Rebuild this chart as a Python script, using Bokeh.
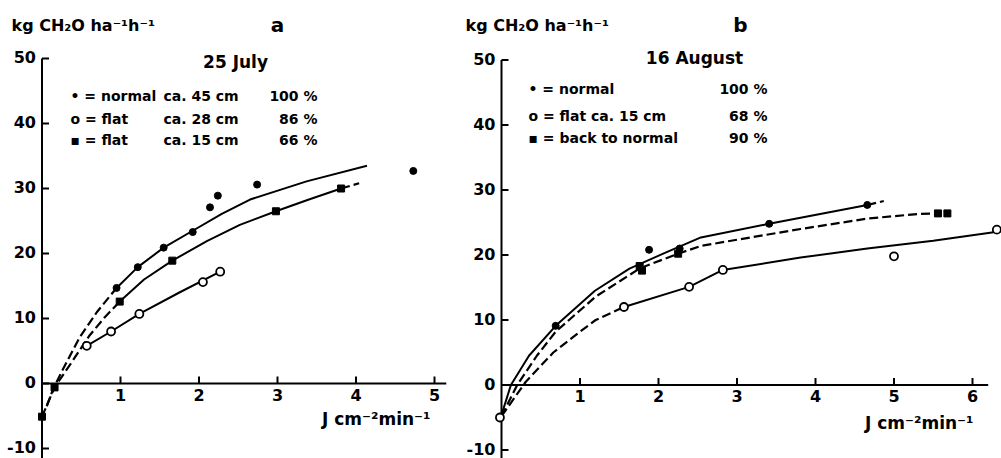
from bokeh.plotting import figure
from bokeh.layouts import row
from bokeh.models import Range1d, Label
from bokeh.core.properties import value
from bokeh.embed import file_html
from bokeh.resources import INLINE

# ---------------- panel a : 25 July ----------------
a_normal_x = [0.95, 1.22, 1.55, 1.92, 2.14, 2.24, 2.74, 4.73]
a_normal_y = [14.7, 17.9, 20.9, 23.3, 27.1, 28.9, 30.6, 32.7]
a_flat28_x = [0.57, 0.88, 1.24, 2.05, 2.27]
a_flat28_y = [5.8, 8.0, 10.7, 15.6, 17.2]
a_flat15_x = [0.0, 0.16, 0.99, 1.66, 2.98, 3.81]
a_flat15_y = [-5.1, -0.6, 12.6, 18.9, 26.5, 30.0]

# fitted curves
a_normal_dash_x = [0.06, 0.14, 0.25, 0.48, 0.70, 0.95]
a_normal_dash_y = [-3.5, -0.9, 1.8, 7.1, 11.0, 14.7]
a_normal_fit_x = [0.95, 1.22, 1.55, 1.92, 2.29, 2.65, 3.37, 4.14]
a_normal_fit_y = [14.7, 17.9, 20.9, 23.5, 26.1, 28.3, 31.1, 33.5]
a_flat15_dash_x = [0.0, 0.16, 0.38, 0.60, 0.80, 0.99]
a_flat15_dash_y = [-5.1, -0.6, 3.3, 7.3, 10.2, 12.6]
a_flat15_fit_x = [0.99, 1.30, 1.66, 2.10, 2.52, 2.98, 3.40, 3.81]
a_flat15_fit_y = [12.6, 16.0, 18.9, 21.9, 24.4, 26.5, 28.3, 30.0]
a_flat15_end_x = [3.81, 4.04]
a_flat15_end_y = [30.0, 30.8]
a_flat28_fit_x = [0.57, 0.88, 1.24, 1.75, 2.27]
a_flat28_fit_y = [5.8, 8.0, 10.7, 14.0, 17.2]

# ---------------- panel b : 16 August ----------------
b_normal_x = [0.69, 1.88, 2.27, 3.41, 4.66]
b_normal_y = [9.1, 20.8, 21.0, 24.8, 27.7]
b_back_x = [1.76, 1.79, 2.25, 5.56, 5.68]
b_back_y = [18.3, 17.6, 20.2, 26.4, 26.4]
b_flat_x = [-0.02, 1.56, 2.39, 2.82, 5.0, 6.31]
b_flat_y = [-5.0, 12.0, 15.1, 17.7, 19.8, 23.9]

b_normal_fit_x = [0.0, 0.12, 0.35, 0.69, 1.19, 1.63, 2.06, 2.54, 3.41, 4.66]
b_normal_fit_y = [-4.6, 0.0, 4.5, 9.1, 14.5, 17.9, 20.2, 22.7, 24.8, 27.7]
b_normal_end_x = [4.66, 4.87]
b_normal_end_y = [27.7, 28.3]
b_back_fit_x = [0.0, 0.20, 0.45, 0.69, 1.20, 1.77, 2.25, 2.54, 3.81, 4.66, 5.30, 5.56]
b_back_fit_y = [-4.8, 0.0, 4.5, 8.2, 13.6, 18.0, 20.2, 21.4, 24.0, 25.6, 26.3, 26.4]
b_flat_dash_x = [0.0, 0.31, 0.66, 1.00, 1.20, 1.56]
b_flat_dash_y = [-4.8, 0.5, 5.0, 8.2, 10.0, 12.0]
b_flat_fit_x = [1.56, 2.39, 2.82, 3.81, 4.66, 5.50, 6.27]
b_flat_fit_y = [12.0, 15.1, 17.7, 19.6, 21.0, 22.2, 23.5]

# ---------------- axes / texts ----------------
y_ticks = [-10, 0, 10, 20, 30, 40, 50]
y_tick_labels = ["-10", "0", "10", "20", "30", "40", "50"]
a_x_ticks = [1, 2, 3, 4, 5]
b_x_ticks = [1, 2, 3, 4, 5, 6]
y_title = "kg CH\u2082O ha\u207b\u00b9h\u207b\u00b9"
x_title = "J cm\u207b\u00b2min\u207b\u00b9"

a_legend_sym = ["\u2022 = normal", "o = flat", "\u25aa = flat"]
a_legend_depth = ["ca. 45 cm", "ca. 28 cm", "ca. 15 cm"]
a_legend_pct = ["100 %", "86 %", "66 %"]
b_legend_sym = ["\u2022 = normal", "o = flat ca. 15 cm", "\u25aa = back to normal"]
b_legend_pct = ["100 %", "68 %", "90 %"]

FONT = "DejaVu Sans"
H = 458
PXX = 78.5  # px per x unit


class Panel:
    def __init__(self, width, zero_px, y0px, pxy, axis_end):
        self.zero_px, self.y0px, self.pxy = zero_px, y0px, pxy
        x_start = -zero_px / PXX
        y_start = -(H - y0px) / pxy
        p = figure(width=width, height=H, output_backend="svg", toolbar_location=None,
                   x_range=Range1d(x_start, x_start + width / PXX),
                   y_range=Range1d(y_start, y0px / pxy),
                   min_border=0, x_axis_location=None, y_axis_location=None)
        p.grid.visible = False
        p.outline_line_color = None
        p.background_fill_color = "white"
        p.border_fill_color = "white"
        self.p = p
        dx = 1 / PXX
        dy = 1 / pxy
        # y axis at x = 0
        p.segment(x0=[0], y0=[y_start], x1=[0], y1=[max(y_ticks)], line_color="black", line_width=2)
        n = len(y_ticks)
        p.segment(x0=[0] * n, y0=y_ticks, x1=[7 * dx] * n, y1=y_ticks,
                  line_color="black", line_width=2)
        p.text(x=[-6 * dx] * n, y=[t + 1.5 * dy for t in y_ticks], text=y_tick_labels,
               text_align="right", text_baseline="middle",
               text_font=value(FONT), text_font_style="bold", text_font_size="16px",
               text_color="black")
        # x axis at y = 0
        p.segment(x0=[0], y0=[0], x1=[axis_end], y1=[0], line_color="black", line_width=2)

    def x_axis(self, ticks):
        p = self.p
        dy = 1 / self.pxy
        n = len(ticks)
        p.segment(x0=ticks, y0=[0] * n, x1=ticks, y1=[7 * dy] * n,
                  line_color="black", line_width=2)
        p.text(x=ticks, y=[-5 * dy] * n, text=[str(t) for t in ticks],
               text_align="center", text_baseline="top",
               text_font=value(FONT), text_font_style="bold", text_font_size="16px",
               text_color="black")

    def px2x(self, px):
        return (px - self.zero_px) / PXX

    def py2y(self, py):
        return (self.y0px - py) / self.pxy

    def label(self, px, py, text, size="14px", align="left"):
        self.p.add_layout(Label(x=self.px2x(px), y=self.py2y(py), text=text,
                                text_font=FONT, text_font_style="bold",
                                text_font_size=size, text_align=align,
                                text_baseline="middle", text_color="black"))

    def dots(self, xs, ys, kind):
        p = self.p
        if kind == "filled":
            p.scatter(xs, ys, marker="circle", size=7, fill_color="black", line_color="black")
        elif kind == "open":
            p.scatter(xs, ys, marker="circle", size=8, fill_color="white",
                      line_color="black", line_width=1.8)
        else:
            p.scatter(xs, ys, marker="square", size=7, fill_color="black", line_color="black")

    def curve(self, xs, ys, dashed=False):
        if dashed:
            self.p.line(xs, ys, line_color="black", line_width=2.2, line_dash="9 4")
        else:
            self.p.line(xs, ys, line_color="black", line_width=2)


# ---------------- panel a (canvas x 0..463) ----------------
A = Panel(463, 41.5, 383, 6.5, 5.15)
A.x_axis(a_x_ticks)
A.curve(a_normal_dash_x, a_normal_dash_y, True)
A.curve(a_normal_fit_x, a_normal_fit_y)
A.curve(a_flat15_dash_x, a_flat15_dash_y, True)
A.curve(a_flat15_fit_x, a_flat15_fit_y)
A.curve(a_flat15_end_x, a_flat15_end_y, True)
A.curve(a_flat28_fit_x, a_flat28_fit_y)
A.dots(a_normal_x, a_normal_y, "filled")
A.dots(a_flat15_x, a_flat15_y, "square")
A.dots(a_flat28_x, a_flat28_y, "open")

A.label(11, 25, y_title, "16px")
A.label(277, 24, "a", "20px", "center")
A.label(238, 61, "25  July", "17px", "center")
for i, yy in enumerate([95, 118, 139]):
    A.label(70, yy, a_legend_sym[i], "14px")
    A.label(163, yy, a_legend_depth[i], "14px")
    A.label(317, yy, a_legend_pct[i], "14px", "right")
A.label(430, 418, x_title, "17px", "right")

# ---------------- panel b (canvas x 463..1001) ----------------
OFF = 463
B = Panel(538, 501 - OFF, 384.5, 6.5, 6.2)
B.x_axis(b_x_ticks)
B.curve(b_normal_fit_x, b_normal_fit_y)
B.curve(b_normal_end_x, b_normal_end_y, True)
B.curve(b_back_fit_x, b_back_fit_y, True)
B.curve(b_flat_dash_x, b_flat_dash_y, True)
B.curve(b_flat_fit_x, b_flat_fit_y)
B.dots(b_normal_x, b_normal_y, "filled")
B.dots(b_back_x, b_back_y, "square")
B.dots(b_flat_x, b_flat_y, "open")

B.label(465 - OFF, 25, y_title, "16px")
B.label(740 - OFF, 24, "b", "20px", "center")
B.label(697 - OFF, 57, "16  August", "17px", "center")
for i, yy in enumerate([88, 115, 137]):
    B.label(528 - OFF, yy, b_legend_sym[i], "14px")
    B.label(767 - OFF, yy, b_legend_pct[i], "14px", "right")
B.label(973 - OFF, 422, x_title, "17px", "right")

layout = row(A.p, B.p)
open("out.html", "w").write(file_html(layout, INLINE))
